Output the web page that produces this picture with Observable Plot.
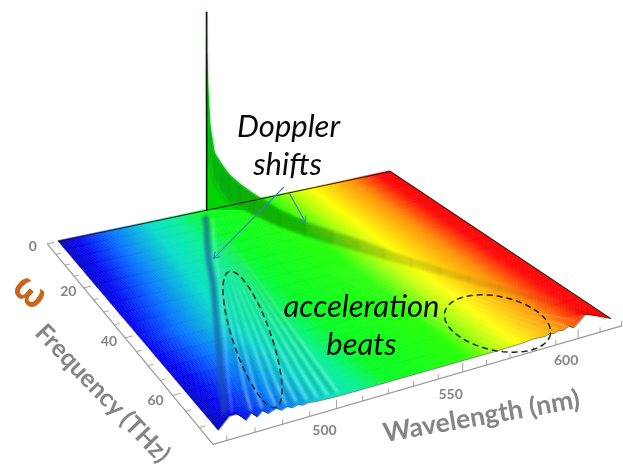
<!DOCTYPE html>
<html><head><meta charset="utf-8">
<script src="https://cdn.jsdelivr.net/npm/d3@7"></script>
<script src="https://cdn.jsdelivr.net/npm/@observablehq/plot@0.6"></script>
<style>html,body{margin:0;background:#fff}svg{display:block;filter:blur(.35px)}</style>
</head><body><div id="chart"></div>
<script>
// Axis ticks and labels
const wavelengthLabels = [500, 550, 600];
const frequencyLabels = [0, 20, 40, 60];
const wavelengthTicks = [460,470,480,490,500,510,520,530,540,550,560,570,580,590,600,610,620];
const frequencyTicks = [0,5,10,15,20,25,30,35,40,45,50,55,60,65,70];

// Doppler-shifted ridges
const ridgeFreq  = [0,.2,.5,1,2,3.5,5,7,10,15,20,25,30,35,40,45,50,55,60,68,72];
const ridgeRed   = [527,527.2,527.6,528,529,531,533,536,539.5,546,552.5,559,565,571,577,583.5,590,596.5,603,612.5,618];
const ridgeBlue  = [527,526.8,526.5,526,525,524,522.5,521,518,513.5,509,505,501,496.5,492,487.5,483,478.5,474,467,464];
const ridgeAmp   = [198,155,115,85,60,50,42,35,29,20,15,13,12,10,8,6.5,5,4,3,1.5,1];
const ridgeFloor = [120,90,65,45,30,20,14,11,8,3,1,0,0,0,0,0,0,0,0,0,0];
const ridgeShade = [.3,.3,.3,.3,.32,.34,.35,.36,.36,.34,.3,.26,.22,.18,.15,.12,.09,.07,.05,.03,.02];

// Height of the front edge (acceleration beats)
const frontWl = [460,464,467,470,472,474,476,478,481,483,485,487,489,491,493,496,500,505,570,580,585,590,592,594,596,598,601,603,606,608.5,611,614,617,620];
const frontZ  = [0,11,11,2,8,2,7,2.5,5.5,2,4,1.5,3,1,2,1,.5,0,0,.5,1.5,.7,2,1,2.5,1.5,4,1,6,11.5,9,6,3,0];

// Beat stripes: wavelength reached at the front edge
const beatsBright = [472,476,481,485,489,493,497,501,505];
const beatsDark   = [470,474,478,483,487,491,495,499,503];
const beatsRed    = [566,570,574,578,582,586,590,594,598,602,606];
const beatFreq    = [14,24,34,44,54,64,71];
const beatFade    = [.12,.28,.45,.6,.8,1];

// Colour table along the wavelength axis
const colorPos = [0,.05,.14,.25,.33,.40,.60,.68,.74,.87,.96,1];
const colorHex = ["#0000b8","#0000f0","#0070ff","#00dcc8","#00f090","#00fa20","#20ff00","#b0ff00","#ffff00","#ff8c00","#ff0000","#f00000"];
const shiftFreq = [0,21,43,58,72];
const shiftVal  = [0,.02,.05,.02,0];

const wlMin = 460, wlMax = 620, fMax = 72;
const peakWl = ridgeRed[0];

// View: four floor corners of the perspective box
const view = {p00:[58,241], p10:[390,171], p11:[610,318], p01:[218,430]};
const H = (() => {
  const [x0,y0]=view.p00,[x1,y1]=view.p10,[x2,y2]=view.p11,[x3,y3]=view.p01;
  const dx1=x1-x2,dx2=x3-x2,sx=x0-x1+x2-x3,dy1=y1-y2,dy2=y3-y2,sy=y0-y1+y2-y3;
  const det=dx1*dy2-dx2*dy1, g=(sx*dy2-dx2*sy)/det, h=(dx1*sy-sx*dy1)/det;
  return {a:x1-x0+g*x1,b:x3-x0+h*x3,c:x0,d:y1-y0+g*y1,e:y3-y0+h*y3,f:y0,g,h};
})();
function project(wl, f, z=0){
  const t=(wl-wlMin)/(wlMax-wlMin), u=f/fMax, w=H.g*t+H.h*u+1;
  return [(H.a*t+H.b*u+H.c)/w, (H.d*t+H.e*u+H.f)/w - z];
}
const colorAt = d3.scaleLinear().domain(colorPos).range(colorHex).clamp(true);
const shiftAt = d3.scaleLinear().domain(shiftFreq).range(shiftVal);
const frontAt = d3.scaleLinear().domain(frontWl).range(frontZ);
function surfaceColor(wl,f){
  const t=(wl-wlMin)/(wlMax-wlMin);
  const fade=Math.max(0,Math.min(1,(.4-t)/.15));
  return colorAt(t+shiftAt(f)*fade);
}

// Surface cells
const wlGrid=d3.range(wlMin,wlMax,.5), fGrid=d3.range(0,fMax,4);
const cells=[]; let id=0;
for(const wl of wlGrid) for(const f of fGrid){
  const c=surfaceColor(wl+.25,f+2), wr=wl+.5, fn=f+4;
  const z1=fn===fMax?frontAt(wl):0, z2=fn===fMax?frontAt(wr):0;
  let a=project(wl,f),b=project(wr,f);
  cells.push({id,c,x1:a[0],y1:a[1],x2:b[0],y2:b[1]});
  a=project(wl,fn,z1);b=project(wr,fn,z2);
  cells.push({id,c,x1:a[0],y1:a[1],x2:b[0],y2:b[1]});
  id++;
}
// Stripes
const stripeSegs=(list,op,from=0)=>list.flatMap(w=>beatFreq.slice(0,-1).map((f,i)=>{
  if(f<from) return null;
  const g=beatFreq[i+1];
  const a=project(peakWl+(w-peakWl)*f/fMax,f), b=project(peakWl+(w-peakWl)*g/fMax,g,g>=71?frontAt(w)*.8:0);
  return {x1:a[0],y1:a[1],x2:b[0],y2:b[1],op:op*beatFade[i]};
})).filter(Boolean);
const brightStripes=stripeSegs(beatsBright,.42);
const darkStripes=stripeSegs(beatsDark,.24);
const redStripes=stripeSegs(beatsRed,.16,34);
const blueLine=ridgeFreq.map((f,i)=>{const p=project(ridgeBlue[i],f);return {f,x:p[0],y:p[1]};}).filter(d=>d.f>=3.5&&d.f<=68);
// Spike fan
const base=project(peakWl,0);
const fan=ridgeFreq.map((f,i)=>({f,i})).filter(d=>d.f<=15).map(d=>{
  const p=project(ridgeRed[d.i],d.f,ridgeAmp[d.i]);
  return {x1:base[0],y1:base[1],x2:p[0],y2:p[1]};
});
// Ribbon along the red ridge
const ribbon=[];
ridgeFreq.slice(0,-1).forEach((f,i)=>{
  for(const j of [i,i+1]){
    const lo=project(ridgeRed[j],ridgeFreq[j],ridgeFloor[j]),hi=project(ridgeRed[j],ridgeFreq[j],ridgeAmp[j]);
    ribbon.push({i,f,x1:lo[0],y1:lo[1],x2:hi[0],y2:hi[1],c:surfaceColor(ridgeRed[i+1],ridgeFreq[i+1]),s:ridgeShade[i]});
  }
});
const edge=(pts)=>pts.map(([w,f,z])=>{const p=project(w,f,z||0);return {x:p[0],y:p[1]};});
const backEdge=edge([[wlMin,0],[wlMax,0]]);
const rightEdge=edge([[wlMax,0],[wlMax,fMax]]);
const frontEdge=edge(frontWl.map(w=>[w,fMax,frontAt(w)]));
const spikeLine=edge([[peakWl,0,0],[peakWl,0,198]]);

// Axis geometry
const axisF=74.9, axisW=455.2;
const axisFront=edge([[axisW,axisF],[wlMax,axisF]]);
const axisLeft=edge([[axisW,0],[axisW,axisF]]);
const tickFront=wavelengthTicks.map(w=>{const a=project(w,axisF),b=project(w,axisF,w%50===0?9:5);return {x1:a[0],y1:a[1],x2:b[0],y2:b[1]};});
const tickLeft=frequencyTicks.map(f=>{const a=project(axisW,f),b=project(axisW+(f%20===0?3:2),f);return {x1:a[0],y1:a[1],x2:b[0],y2:b[1]};});
const labFront=wavelengthLabels.map(w=>{const p=project(w,axisF);return {t:String(w),x:p[0]-12,y:p[1]+22};});
const labLeft=frequencyLabels.map(f=>{const p=project(449,f);return {t:String(f),x:p[0],y:p[1]};});

// Ellipses drawn as annotation
const ellipseA={cx:252,cy:339,a:72,b:19,rot:71}, ellipseB={cx:497,cy:323,a:54,b:27,rot:12};
const ring=(e,k)=>d3.range(0,361,6).map(d=>{
  const p=d*Math.PI/180,r=e.rot*Math.PI/180,ca=e.a*Math.cos(p),sb=e.b*Math.sin(p);
  return {k,x:e.cx+ca*Math.cos(r)-sb*Math.sin(r),y:e.cy+ca*Math.sin(r)+sb*Math.cos(r)};
});
const rings=[...ring(ellipseA,0),...ring(ellipseB,1)];

const arrows=[{x1:283,y1:187,x2:213,y2:258},{x1:289,y1:193,x2:305,y2:222}];
const italics=[{t:"Doppler",x:288,y:127},{t:"shifts",x:287,y:165},{t:"acceleration",x:361,y:307},{t:"beats",x:361,y:345}];
const GRAY="#858585";

const plot=Plot.plot({
  width:623,height:468,margin:0,
  x:{domain:[0,623],range:[0,623],axis:null},
  y:{domain:[0,468],range:[0,468],axis:null},
  color:{type:"identity"},opacity:{type:"identity"},
  marks:[
    Plot.area(cells,{x1:"x1",y1:"y1",x2:"x2",y2:"y2",z:"id",fill:"c",stroke:"c",strokeWidth:.5}),
    Plot.link(brightStripes,{x1:"x1",y1:"y1",x2:"x2",y2:"y2",stroke:"#ffffff",strokeOpacity:"op",strokeWidth:2.2,imageFilter:"blur(.8px)"}),
    Plot.link(darkStripes,{x1:"x1",y1:"y1",x2:"x2",y2:"y2",stroke:"#003080",strokeOpacity:"op",strokeWidth:2.2,imageFilter:"blur(.8px)"}),
    Plot.link(redStripes,{x1:"x1",y1:"y1",x2:"x2",y2:"y2",stroke:"#ffffff",strokeOpacity:"op",strokeWidth:1.6,imageFilter:"blur(.6px)"}),
    Plot.line(blueLine,{x:d=>d.x-2,y:"y",stroke:"#2050a0",strokeOpacity:.65,strokeWidth:6,mixBlendMode:"multiply",imageFilter:"blur(1.8px)"}),
    Plot.line(blueLine,{x:d=>d.x+5,y:"y",stroke:"#ffffff",strokeOpacity:.2,strokeWidth:3,imageFilter:"blur(1px)"}),
    Plot.area(fan,{x1:"x1",y1:"y1",x2:"x2",y2:"y2",fill:"#00d400"}),
    Plot.area(ribbon.filter(d=>d.f<20),{x1:"x1",y1:"y1",x2:"x2",y2:"y2",z:"i",fill:"c",stroke:"c",strokeWidth:.4}),
    Plot.area(ribbon,{x1:"x1",y1:"y1",x2:"x2",y2:"y2",z:"i",fill:"#0a2600",stroke:"#0a2600",strokeWidth:.1,fillOpacity:"s",imageFilter:"blur(1.8px)"}),
    Plot.line(spikeLine,{x:"x",y:"y",stroke:"#062006",strokeWidth:1.6}),
    Plot.line(backEdge,{x:"x",y:"y",stroke:"#201a10",strokeWidth:1}),
    Plot.line(rightEdge,{x:"x",y:"y",stroke:"#301000",strokeWidth:1}),
    Plot.line(frontEdge,{x:"x",y:"y",stroke:"#102010",strokeWidth:.7,strokeOpacity:.7}),
    Plot.line(axisFront,{x:"x",y:"y",stroke:"#999",strokeWidth:1.2}),
    Plot.line(axisLeft,{x:"x",y:"y",stroke:"#999",strokeWidth:1.2}),
    Plot.link(tickFront,{x1:"x1",y1:"y1",x2:"x2",y2:"y2",stroke:"#999",strokeWidth:.9}),
    Plot.link(tickLeft,{x1:"x1",y1:"y1",x2:"x2",y2:"y2",stroke:"#999",strokeWidth:.9}),
    Plot.text(labFront,{x:"x",y:"y",text:"t",fontSize:14,fontFamily:"Lato",fontWeight:700,fill:GRAY}),
    Plot.text(labLeft,{x:"x",y:"y",text:"t",fontSize:14,fontFamily:"Lato",fontWeight:700,fill:GRAY}),
    Plot.line(rings,{x:"x",y:"y",z:"k",stroke:"#1c2a1c",strokeWidth:1.5,strokeDasharray:"5,5"}),
    Plot.arrow(arrows,{x1:"x1",y1:"y1",x2:"x2",y2:"y2",stroke:"#3f7fc8",strokeWidth:1.1,headLength:9,bend:0}),
    Plot.text(italics,{x:"x",y:"y",text:"t",fontSize:31,fontFamily:"Lato",fontStyle:"italic",fill:"#0a0a0a"}),
    Plot.text(["Frequency (THz)"],{x:[102],y:[393],text:d=>d,rotate:46,fontSize:25,fontFamily:"Lato",fontWeight:700,fill:GRAY}),
    Plot.text(["Wavelength (nm)"],{x:[481],y:[416],text:d=>d,rotate:-10,fontSize:26.5,fontFamily:"Lato",fontWeight:700,fill:GRAY}),
    Plot.text(["ω"],{x:[30],y:[291],text:d=>d,rotate:40,fontSize:38,fontFamily:"Noto Sans",fontWeight:700,fill:"#c9661e"})
  ]
});
document.getElementById("chart").append(plot);
</script>
</body></html>
